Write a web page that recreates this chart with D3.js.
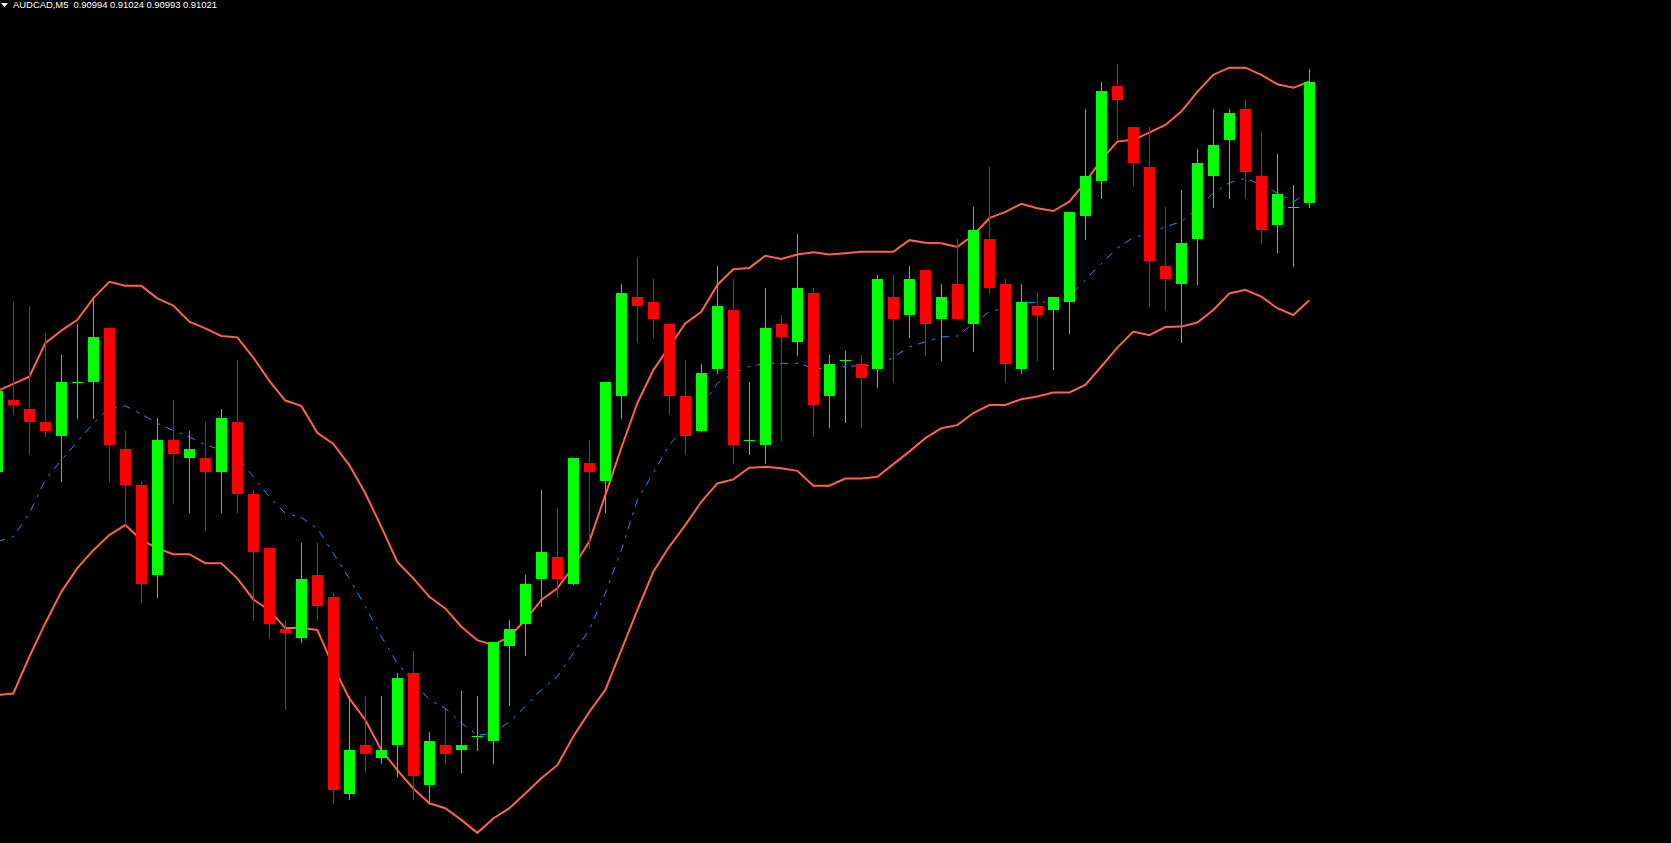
<!DOCTYPE html>
<html>
<head>
<meta charset="utf-8">
<script src="https://cdn.jsdelivr.net/npm/d3@7.9.0/dist/d3.min.js"></script>
<style>
  html, body { margin: 0; padding: 0; background: #000; overflow: hidden; }
  svg { display: block; }
</style>
</head>
<body>
<div id="chart"></div>
<script>
// AUDCAD M5 candles, prices in 1e-5 points (91021 = 0.91021)
const opens  = [90934,90950,90948,90945,90942,90954,90954,90966,90939,90931,90911,90941,90937,90937,90934,90945,90929,90917,90899,90897,90911,90906,90862,90873,90870,90873,90889,90864,90873,90872,90875,90874,90895,90900,90910,90915,90909,90936,90932,90951,90973,90972,90967,90951,90943,90957,90970,90941,90940,90967,90963,90974,90951,90959,90958,90957,90973,90969,90979,90968,90976,90967,90986,90976,90957,90971,90970,90972,90991,90999,91020,91011,91002,90980,90976,90986,91000,91008,91015,91000,90989,90993,90994];
const highs  = [90953,90972,90971,90965,90960,90967,90973,90966,90943,90932,90946,90950,90943,90945,90948,90959,90930,90917,90901,90918,90918,90907,90884,90884,90884,90889,90894,90876,90881,90885,90884,90896,90901,90911,90930,90926,90937,90941,90954,90976,90982,90977,90967,90959,90958,90980,90977,90954,90975,90969,90987,90975,90960,90961,90960,90978,90978,90980,90979,90976,90986,90993,91002,90977,90976,90974,90973,90992,91015,91021,91025,91011,91011,90993,90997,91006,91015,91015,91017,91010,91005,90998,91024];
const lows   = [90933,90947,90938,90942,90932,90946,90946,90932,90922,90905,90906,90927,90925,90921,90925,90925,90901,90897,90881,90896,90901,90860,90861,90867,90869,90866,90861,90860,90869,90867,90872,90869,90882,90893,90904,90906,90909,90917,90925,90946,90963,90964,90947,90938,90943,90956,90936,90938,90936,90941,90960,90942,90944,90945,90944,90953,90954,90964,90960,90959,90968,90961,90974,90954,90956,90959,90957,90965,90986,90995,91008,90998,90971,90970,90963,90976,90993,90995,90995,90985,90983,90980,90993];
const closes = [90952,90949,90945,90943,90954,90954,90964,90940,90931,90909,90941,90938,90939,90934,90946,90929,90916,90900,90898,90910,90904,90863,90872,90871,90872,90888,90866,90874,90871,90873,90875,90896,90899,90909,90916,90910,90937,90934,90954,90974,90971,90968,90951,90942,90956,90971,90940,90941,90966,90964,90975,90949,90958,90959,90955,90977,90968,90977,90967,90973,90968,90988,90975,90958,90972,90969,90973,90992,91000,91019,91017,91003,90981,90977,90985,91003,91007,91014,91001,90988,90996,90993,91021];

// Bollinger Bands (20, 2)
const upperBand = [90952.0,90953.6,90955.2,90962.7,90965.5,90967.9,90972.7,90976.4,90975.5,90975.5,90972.7,90971.1,90967.5,90966.0,90964.3,90964.0,90959.5,90954.3,90949.9,90948.7,90942.7,90940.2,90935.5,90929.2,90921.7,90913.9,90910.2,90906.1,90903.5,90899.4,90896.4,90895.3,90897.2,90900.9,90905.4,90908.0,90912.8,90918.4,90928.8,90939.3,90949.3,90956.7,90961.9,90967.1,90969.7,90975.7,90979.2,90979.5,90982.2,90981.5,90982.5,90983.0,90982.5,90982.8,90983.1,90983.1,90983.1,90985.7,90985.1,90985.0,90984.2,90986.8,90990.6,90992.0,90993.8,90992.8,90992.2,90994.3,90998.6,91003.6,91007.7,91008.1,91009.7,91011.4,91014.4,91018.8,91022.6,91024.2,91024.2,91022.6,91020.5,91019.7,91021.1];
const middleBand = [90918.4,90919.5,90924.7,90932.2,90936.6,90940.7,90944.8,90948.2,90948.7,90946.9,90944.8,90943.2,90941.8,90940.0,90938.9,90937.4,90932.9,90928.4,90924.7,90923.8,90921.4,90915.8,90910.2,90903.9,90897.2,90891.2,90887.1,90883.1,90881.2,90877.9,90875.2,90875.6,90878.2,90881.6,90885.3,90888.3,90893.5,90898.7,90906.9,90916.5,90927.7,90933.7,90940.0,90944.1,90948.5,90953.7,90956.0,90957.5,90958.2,90958.2,90958.2,90957.2,90956.9,90957.5,90957.7,90957.8,90959.5,90961.9,90963.0,90964.1,90964.3,90967.1,90969.7,90970.5,90971.7,90971.8,90972.0,90973.1,90976.8,90980.5,90983.9,90986.3,90987.2,90988.7,90989.8,90992.8,90996.2,90998.5,90999.5,90998.0,90996.2,90994.3,90996.3];
const lowerBand = [90884.2,90884.5,90892.7,90900.2,90907.2,90912.5,90916.5,90919.9,90922.1,90918.8,90916.9,90915.6,90915.6,90913.6,90913.6,90910.2,90905.5,90903.1,90899.1,90899.1,90898.7,90890.5,90883.4,90878.6,90871.9,90867.4,90863.3,90860.0,90858.9,90856.3,90853.4,90856.6,90858.9,90862.2,90865.6,90868.5,90874.9,90880.4,90885.3,90894.2,90903.1,90911.7,90917.3,90922.1,90927.3,90931.4,90932.3,90934.9,90935.1,90934.8,90934.2,90930.9,90930.9,90932.5,90932.5,90932.9,90935.7,90938.5,90941.5,90943.7,90944.4,90947.1,90948.9,90948.9,90950.2,90950.8,90951.7,90951.7,90953.4,90957.5,90961.7,90965.3,90964.5,90966.3,90966.4,90967.3,90970.1,90973.8,90974.6,90973.1,90970.5,90969.0,90972.3];

const symbol = "AUDCAD,M5";

const W = 1671, H = 843;
const candles = opens.map((o, i) => ({
  i, o: o / 1e5, h: highs[i] / 1e5, l: lows[i] / 1e5, c: closes[i] / 1e5
}));
const last = candles[candles.length - 1];

const svg = d3.select("#chart").append("svg")
  .attr("width", W)
  .attr("height", H)
  .style("background", "#000");

// 16px per bar, first bar half off the left edge
const x = d3.scaleLinear()
  .domain([0, candles.length - 1])
  .range([-2.67, -2.67 + 16 * (candles.length - 1)]);

const y = d3.scaleLinear()
  .domain([0.90851, 0.91021])
  .range([843.6, 82]);

const bodyW = 11;

// bands
const bandLine = arr => d3.line()
  .x((d, i) => x(i))
  .y(d => y(d / 1e5))(arr);

svg.append("path")
  .attr("d", bandLine(upperBand))
  .attr("fill", "none")
  .attr("stroke", "#ff6347")
  .attr("stroke-width", 2);

svg.append("path")
  .attr("d", bandLine(lowerBand))
  .attr("fill", "none")
  .attr("stroke", "#ff6347")
  .attr("stroke-width", 2);

svg.append("path")
  .attr("d", bandLine(middleBand))
  .attr("fill", "none")
  .attr("stroke", "#1e90ff")
  .attr("stroke-width", 1)
  .attr("stroke-dasharray", "8 7 3 6");

// candles
const g = svg.append("g");
const color = d => d.c >= d.o ? "#00ff00" : "#ff0000";

g.selectAll("line.wick")
  .data(candles)
  .join("line")
    .attr("class", "wick")
    .attr("x1", d => Math.round(x(d.i)) + 0.5)
    .attr("x2", d => Math.round(x(d.i)) + 0.5)
    .attr("y1", d => Math.round(y(d.h)))
    .attr("y2", d => Math.round(y(d.l)) + 1)
    .attr("stroke", color)
    .attr("stroke-width", 1);

g.selectAll("rect.body")
  .data(candles)
  .join("rect")
    .attr("class", "body")
    .attr("x", d => Math.round(x(d.i)) - 5)
    .attr("width", bodyW)
    .attr("y", d => Math.round(y(Math.max(d.o, d.c))))
    .attr("height", d => Math.max(1, Math.round(y(Math.min(d.o, d.c))) - Math.round(y(Math.max(d.o, d.c)))))
    .attr("fill", color);

// header
const fmt = d3.format(".5f");
svg.append("path")
  .attr("d", "M1,3 L8,3 L4.5,7 Z")
  .attr("fill", "#fff");

svg.append("text")
  .attr("x", 13)
  .attr("y", 8)
  .attr("fill", "#fff")
  .attr("font-family", "Liberation Sans, Arial, sans-serif")
  .attr("font-size", 9.5)
  .attr("textLength", 204)
  .attr("lengthAdjust", "spacing")
  .attr("xml:space", "preserve")
  .style("white-space", "pre")
  .text(`${symbol}  ${fmt(last.o)} ${fmt(last.h)} ${fmt(last.l)} ${fmt(last.c)}`);
</script>
</body>
</html>
